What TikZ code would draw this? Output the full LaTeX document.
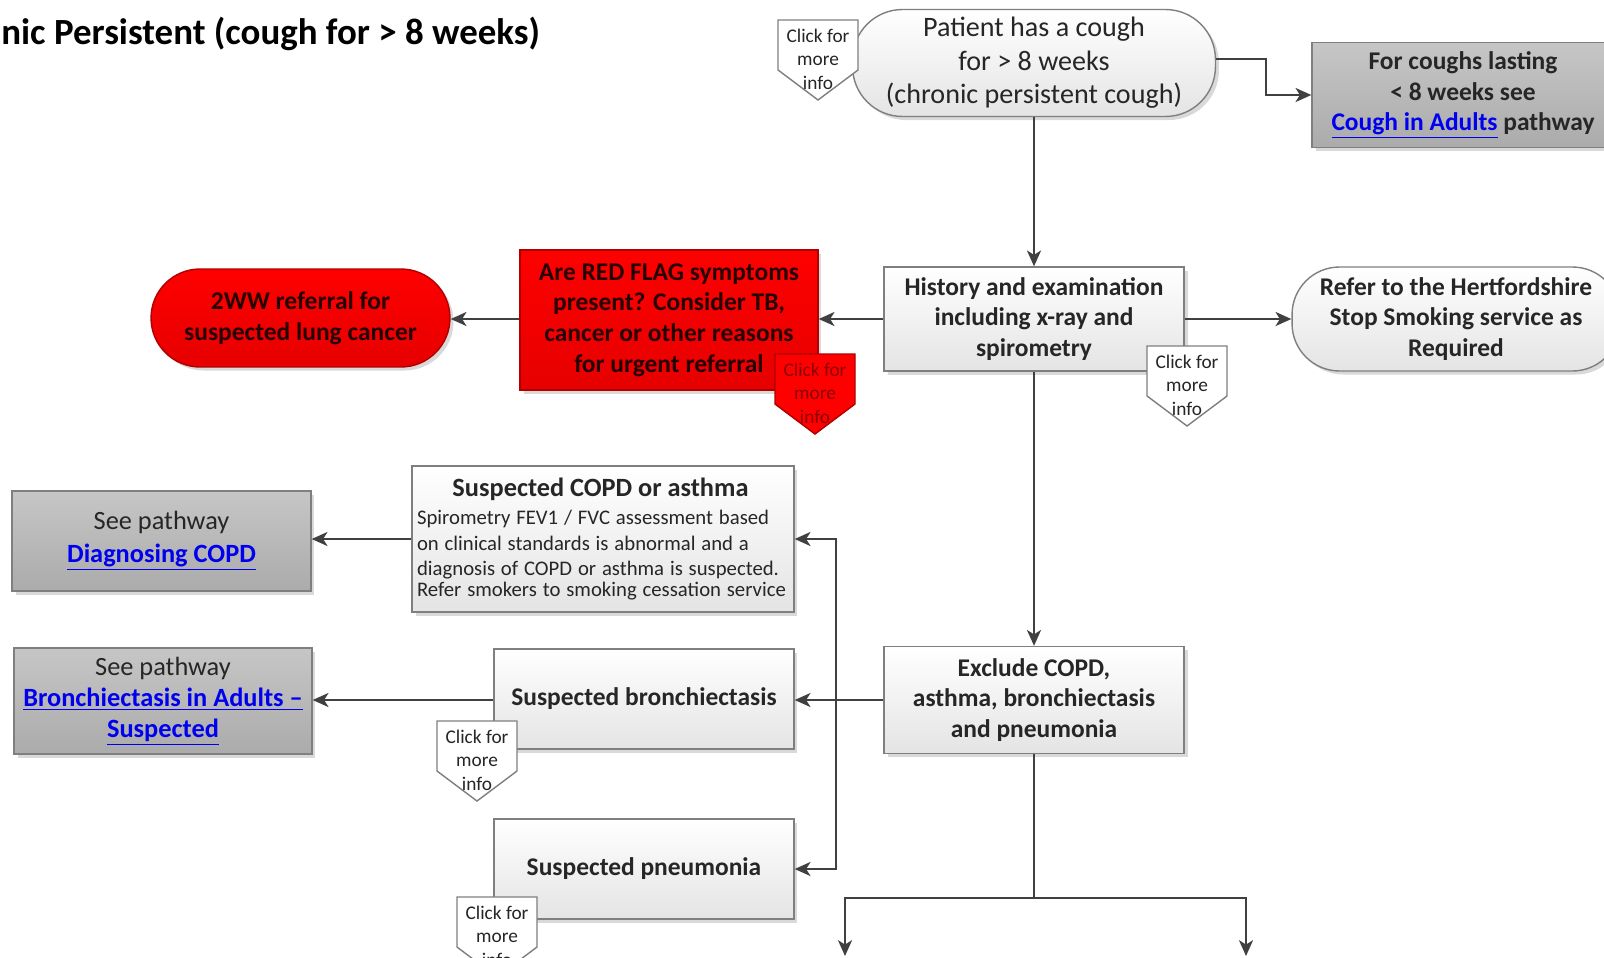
\documentclass[tikz,border=0pt]{standalone}
\usepackage{fontspec}
\setmainfont{Carlito}
\usetikzlibrary{arrows.meta,shadows}
\definecolor{ln}{HTML}{404040}
\definecolor{txt}{HTML}{262626}
\definecolor{bd}{HTML}{7F7F7F}
\definecolor{gtop}{HTML}{C6C6C6}
\definecolor{gbot}{HTML}{ABABAB}
\definecolor{rtop}{HTML}{FF0000}
\definecolor{rbot}{HTML}{E60000}
\definecolor{rbd}{HTML}{B00000}
\definecolor{lnkc}{HTML}{0000EE}
\definecolor{wbot}{HTML}{E4E4E4}
\definecolor{rtxt}{HTML}{260000}
\definecolor{rtagtxt}{HTML}{8A0000}
\newcommand\linktext[1]{\textcolor{lnkc}{\underline{#1}}}
\tikzset{
 basebox/.style={draw=bd, line width=0.8pt, text=txt, align=center, inner sep=2pt,
   drop shadow={opacity=0.3,shadow xshift=2pt,shadow yshift=-2pt}},
 wbox/.style={basebox, top color=white, bottom color=wbot},
 gbox/.style={basebox, top color=gtop, bottom color=gbot},
 rbox/.style={basebox, draw=rbd, top color=rtop, bottom color=rbot, text=rtxt},
 fsixteen/.style={font=\fontsize{16}{19.1}\selectfont},
 fbold/.style={font=\fontsize{14.5}{17.4}\selectfont\bfseries},
 fgray/.style={font=\fontsize{15}{17.6}\selectfont},
 arr/.style={draw=ln, line width=1.2pt, -{Stealth[length=9pt,width=8pt,inset=2.5pt]}},
 plainline/.style={draw=ln, line width=1.2pt},
 tagline/.style={draw=bd, line width=0.8pt, fill=white},
 tagtext/.style={font=\fontsize{11}{13.3}\selectfont, align=center, inner sep=0pt, text=txt},
}
% #1 name, #2 centre x, #3 top y, #4 extra style for outline, #5 text colour
\newcommand\infotag[5]{%
  \draw[tagline,#4] (#2-40,#3) -- (#2+40,#3) -- (#2+40,#3+50) -- (#2,#3+80) -- (#2-40,#3+50) -- cycle;
  \node[tagtext,text=#5] (#1) at (#2,#3+39) {Click for\\more\\info};}
\begin{document}
\begin{tikzpicture}[x=0.02cm,y=-0.02cm]
\useasboundingbox (0,0) rectangle (1604,957);
\clip (0,0) rectangle (1604,957);

\node[anchor=west, font=\fontsize{21}{25}\selectfont\bfseries, text=black, inner sep=0pt] (title) at (1,34) {nic Persistent (cough for > 8 weeks)};

\node[wbox, fsixteen, rounded corners=1cm, minimum width=7.26cm, minimum height=2.14cm] (n1) at (1034,63)
  {Patient has a cough\\for > 8 weeks\\(chronic persistent cough)};
\node[gbox, fbold, minimum width=6.04cm, minimum height=2.1cm] (n2) at (1463,95)
  {For coughs lasting\\< 8 weeks see\\\linktext{Cough in Adults} pathway};
\node[wbox, fbold, minimum width=6cm, minimum height=2.08cm] (hist) at (1034,319)
  {History and examination\\including x-ray and\\spirometry};
\node[wbox, fbold, rounded corners=0.95cm, minimum width=6.56cm, minimum height=2.08cm] (smoke) at (1456,319)
  {Refer to the Hertfordshire\\Stop Smoking service as\\Required};
\node[rbox, fbold, minimum width=5.96cm, minimum height=2.8cm] (red) at (669,320)
  {Are RED FLAG symptoms\\present? Consider TB,\\cancer or other reasons\\for urgent referral};
\node[rbox, fbold, rounded corners=0.98cm, minimum width=5.98cm, minimum height=1.96cm] (redst) at (300.5,318)
  {2WW referral for\\suspected lung cancer};
\node[wbox, fbold, minimum width=6cm, minimum height=2.14cm] (excl) at (1034,700)
  {Exclude COPD,\\asthma, bronchiectasis\\and pneumonia};
\node[wbox, fbold, minimum width=6cm, minimum height=2cm] (bronch) at (644,699)
  {Suspected bronchiectasis};
\node[gbox, fgray, minimum width=5.96cm, minimum height=2.12cm] (gbronch) at (163,701)
  {See pathway\\\textbf{\linktext{Bronchiectasis in Adults –}}\\\textbf{\linktext{Suspected}}};
\node[wbox, minimum width=7.64cm, minimum height=2.92cm, text width=7.64cm, align=left, inner sep=0pt] (copd) at (603,539)
  {\hyphenpenalty=10000\hspace*{0.1cm}\makebox[7.34cm][c]{\fontsize{15}{18}\selectfont\bfseries Suspected COPD or asthma}\\[1.6pt]%
   \fontsize{11.8}{14.6}\selectfont\hspace*{0.1cm}Spirometry FEV1 / FVC assessment based\\\hspace*{0.1cm}on clinical standards is abnormal and a\\\hspace*{0.1cm}diagnosis of COPD or asthma is suspected.\\\hspace*{0.1cm}Refer smokers to smoking cessation service};
\node[gbox, font=\fontsize{15}{18.6}\selectfont, minimum width=5.98cm, minimum height=2cm] (gcopd) at (161.5,541)
  {See pathway\\\textbf{\linktext{Diagnosing COPD}}};
\node[wbox, fbold, minimum width=6cm, minimum height=2cm] (pneu) at (644,869)
  {Suspected pneumonia};

% connectors
\coordinate (c1) at (1266,59);
\draw[arr] (n1.east |- c1) -- (c1) |- (n2.west);
\draw[arr] (n1.south) -- (hist.north);
\draw[arr] (hist.east) -- (smoke.west);
\draw[arr] (hist.west) -- (red.east |- hist.west);
\draw[arr] (red.west |- hist.west) -- (redst.east |- hist.west);
\draw[arr] (hist.south) -- (excl.north);
\draw[arr] (excl.west) -- (bronch.east |- excl.west);
\draw[arr] (bronch.west |- excl.west) -- (gbronch.east |- excl.west);
\draw[arr] (copd.west) -- (gcopd.east |- copd.west);
\coordinate (sp) at (836,700);
\draw[arr] (sp) |- (copd.east);
\draw[arr] (sp) |- (pneu.east);
\coordinate (bj) at (1034,898);
\coordinate (b1) at (845,956);
\coordinate (b2) at (1246,956);
\draw[plainline] (excl.south) -- (bj);
\draw[arr] (bj) -| (b1);
\draw[arr] (bj) -| (b2);

% info tags
\infotag{t1}{818}{20}{}{txt}
\infotag{thist}{1187}{346}{}{txt}
\infotag{tred}{815}{354}{draw=rbd,fill=rtop}{rtagtxt}
\infotag{tbronch}{477}{721}{}{txt}
\infotag{tpneu}{497}{897}{}{txt}
\end{tikzpicture}
\end{document}
